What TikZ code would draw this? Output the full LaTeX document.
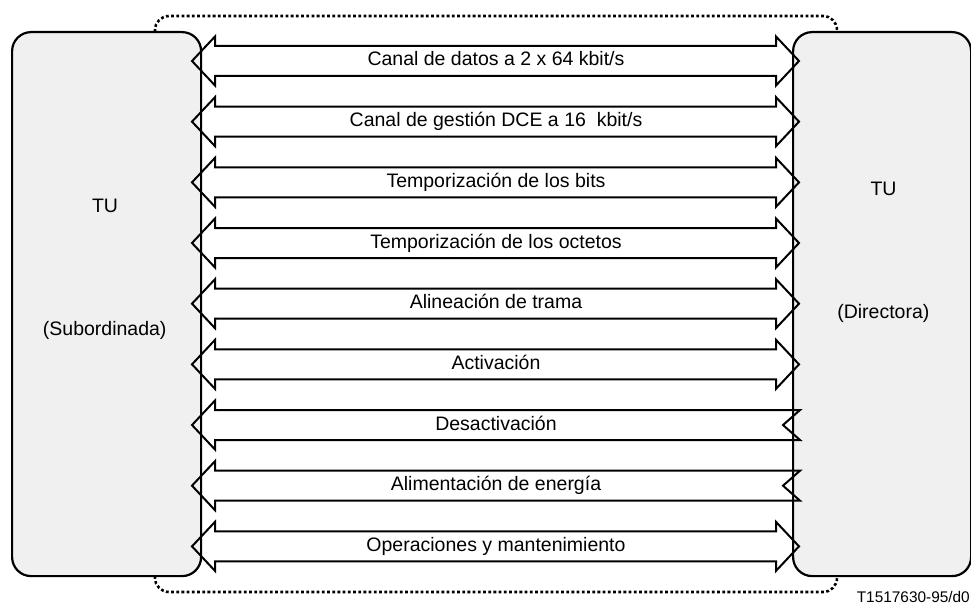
\documentclass[tikz,border=0pt]{standalone}
\usepackage{fontspec}
\setmainfont{Liberation Sans}
\definecolor{boxgray}{HTML}{F0F0F0}
\begin{document}
\begin{tikzpicture}[x=1pt,y=-1pt,
  box/.style={draw, line width=2.2pt, fill=boxgray, rounded corners=19pt, anchor=north west, inner sep=0pt},
  arr/.style={draw, line width=2pt, line join=miter},
  lbl/.style={font=\fontsize{19.5}{22}\selectfont, text height=14pt, text depth=0pt, inner sep=0pt},
  small/.style={font=\fontsize{15.4}{18}\selectfont, text height=11pt, text depth=0pt, inner sep=0pt},
  frame/.style={line width=2.6pt, dash pattern=on 2.8pt off 2.4pt, rounded corners=14pt},
  pics/dblarrow/.style={code={
    \draw[arr] (-304,0) -- (-281,-24.5) -- (-281,-15) -- (280,-15) -- (280,-24.5)
      -- (303,0) -- (280,24.5) -- (280,15) -- (-281,15) -- (-281,24.5) -- cycle;}},
  pics/leftarrow/.style={code={
    \draw[arr] (-304,0) -- (-281,-24.5) -- (-281,-15) -- (304,-15) -- (287,0)
      -- (304,15) -- (-281,15) -- (-281,24.5) -- cycle;}}
]
\useasboundingbox (0,0) rectangle (971,607);
% dotted frame
\draw[frame] (155,16) rectangle (837,592);
% boxes
\node[box, minimum width=189pt, minimum height=544pt] (sub) at (11,31) {};
\node[box, minimum width=178pt, minimum height=544pt] (dir) at (792,31) {};
\node[lbl] (tu1) at (105,205.5) {TU};
\node[lbl] (sublbl) at (104.7,328) {(Subordinada)};
\node[lbl] (tu2) at (883.5,188.3) {TU};
\node[lbl] (dirlbl) at (883.3,311.7) {(Directora)};
% arrows
\foreach \i/\t/\k in {0/{Canal de datos a 2 x 64 kbit/s}/dblarrow,
                       1/{Canal de gestión DCE a 16~ kbit/s}/dblarrow,
                       2/{Temporización de los bits}/dblarrow,
                       3/{Temporización de los octetos}/dblarrow,
                       4/{Alineación de trama}/dblarrow,
                       5/{Activación}/dblarrow,
                       6/{Desactivación}/leftarrow,
                       7/{Alimentación de energía}/leftarrow,
                       8/{Operaciones y mantenimiento}/dblarrow}{
  \pgfmathsetmacro\cy{61+60.67*\i}
  \pic at (496,\cy) {\k};
  \node[lbl] (row\i) at (496,\cy-2) {\t};
}
\node[small, anchor=east] (ref) at (970,597) {T1517630-95/d0};
\end{tikzpicture}
\end{document}
